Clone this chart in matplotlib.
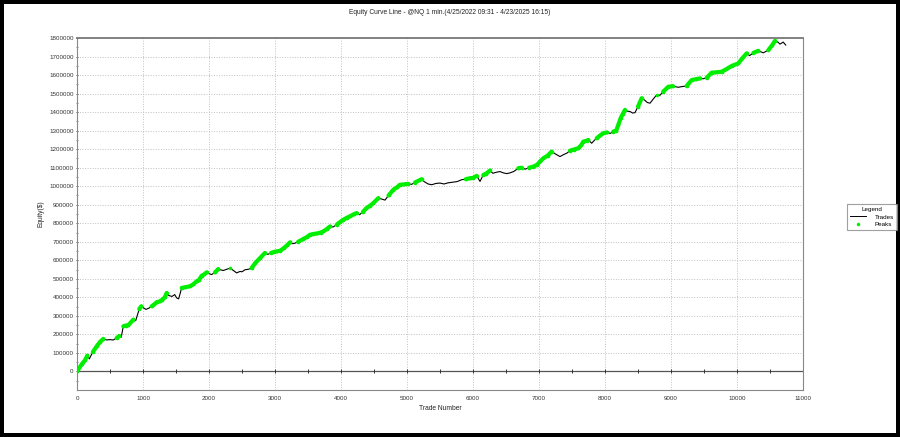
import numpy as np
import matplotlib
matplotlib.use("Agg")
import matplotlib.pyplot as plt
from matplotlib.lines import Line2D

title = "Equity Curve Line - @NQ 1 min.(4/25/2022 09:31 - 4/23/2025 16:15)"
x_label = "Trade Number"
y_label = "Equity($)"
legend_title = "Legend"
series_names = ["Trades", "Peaks"]

trade_no = [0, 70, 120, 157, 187, 240, 298, 350, 399, 450, 500, 550, 601, 641, 670, 702, 740, 778,
            853, 890, 944, 975, 1000, 1045, 1090, 1131, 1170, 1207, 1250, 1283, 1330, 1359, 1390,
            1440, 1480, 1510, 1540, 1586, 1640, 1712, 1760, 1813, 1850, 1889, 1930, 1965, 2000,
            2040, 2090, 2141, 2180, 2217, 2270, 2318, 2370, 2419, 2470, 2500, 2545, 2600, 2646,
            2700, 2773, 2848, 2890, 2940, 2980, 3025, 3080, 3130, 3180, 3227, 3260, 3300, 3350,
            3429, 3480, 3530, 3580, 3640, 3690, 3732, 3790, 3833, 3880, 3934, 3980, 4035, 4090,
            4140, 4190, 4237, 4280, 4330, 4380, 4440, 4490, 4566, 4620, 4667, 4720, 4793, 4850,
            4894, 4960, 5020, 5070, 5121, 5222, 5260, 5320, 5374, 5440, 5500, 5560, 5620, 5702,
            5760, 5828, 5890, 5955, 6000, 6056, 6106, 6156, 6200, 6258, 6300, 6350, 6409, 6460,
            6510, 6561, 6620, 6687, 6740, 6790, 6850, 6914, 6970, 7020, 7066, 7130, 7192, 7230,
            7280, 7318, 7380, 7420, 7470, 7530, 7596, 7640, 7672, 7720, 7747, 7798, 7840, 7874,
            7930, 7975, 8030, 8080, 8126, 8170, 8200, 8240, 8270, 8303, 8340, 8379, 8420, 8454,
            8500, 8556, 8600, 8640, 8682, 8730, 8783, 8830, 8880, 8960, 9030, 9111, 9170, 9237,
            9313, 9380, 9439, 9490, 9540, 9616, 9690, 9768, 9840, 9919, 10020, 10080, 10146,
            10190, 10250, 10323, 10399, 10475, 10530, 10576, 10620, 10652, 10700, 10738]

equity = [0, 38000, 60000, 86000, 68000, 105000, 136000, 160000, 176000, 170000, 172000, 170000,
          181000, 192000, 185000, 244000, 248000, 250000, 280000, 275000, 338000, 352000, 345000,
          335000, 342000, 352000, 362000, 374000, 378000, 385000, 400000, 424000, 410000, 405000,
          415000, 397000, 392000, 451000, 455000, 460000, 470000, 487000, 495000, 517000, 525000,
          535000, 528000, 523000, 535000, 553000, 548000, 545000, 552000, 558000, 545000, 532000,
          540000, 538000, 549000, 552000, 558000, 585000, 612000, 640000, 632000, 640000, 645000,
          648000, 652000, 665000, 680000, 697000, 690000, 692000, 700000, 715000, 725000, 738000,
          742000, 745000, 750000, 756000, 770000, 783000, 780000, 792000, 805000, 819000, 830000,
          838000, 848000, 855000, 846000, 860000, 880000, 895000, 909000, 936000, 930000, 925000,
          950000, 981000, 995000, 1008000, 1010000, 1013000, 1010000, 1020000, 1038000, 1025000,
          1012000, 1008000, 1015000, 1017000, 1012000, 1018000, 1022000, 1025000, 1035000,
          1038000, 1043000, 1045000, 1056000, 1026000, 1061000, 1068000, 1085000, 1070000,
          1075000, 1079000, 1072000, 1068000, 1072000, 1080000, 1097000, 1100000, 1092000,
          1100000, 1106000, 1115000, 1135000, 1151000, 1165000, 1187000, 1178000, 1168000,
          1160000, 1172000, 1178000, 1192000, 1198000, 1205000, 1222000, 1241000, 1245000,
          1250000, 1232000, 1248000, 1259000, 1275000, 1286000, 1290000, 1285000, 1295000,
          1300000, 1330000, 1370000, 1390000, 1412000, 1405000, 1403000, 1395000, 1397000,
          1430000, 1475000, 1465000, 1452000, 1448000, 1470000, 1493000, 1490000, 1510000,
          1537000, 1540000, 1534000, 1538000, 1541000, 1573000, 1578000, 1582000, 1580000,
          1585000, 1613000, 1615000, 1618000, 1632000, 1649000, 1663000, 1690000, 1717000,
          1705000, 1720000, 1731000, 1720000, 1735000, 1760000, 1785000, 1778000, 1767000,
          1778000, 1762000]

x_ticks = list(range(0, 11001, 1000))
y_ticks = list(range(0, 1800001, 100000))

FONT = ["Liberation Sans Narrow", "Liberation Sans", "DejaVu Sans"]
plt.rcParams["font.family"] = FONT

fig = plt.figure(figsize=(9, 4.37), dpi=100, linewidth=4.5, edgecolor="black")
ax = fig.add_axes([77 / 900, 1 - 390 / 437, (803 - 77) / 900, (390 - 38) / 437])

x = np.array(trade_no, dtype=float)
y = np.array(equity, dtype=float)
runmax = np.maximum.accumulate(y)
is_peak = y >= runmax
peaks = np.where(is_peak, y, np.nan)

ax.set_xlim(0, 11000)
ax.set_ylim(-100000, 1800000)

# grid
for gx in x_ticks[1:-1]:
    ax.axvline(gx, color="#c0c0c0", lw=0.7, ls=(0, (1, 1.6)), zorder=0)
for gy in y_ticks[1:-1]:
    ax.axhline(gy, color="#c0c0c0", lw=0.7, ls=(0, (1, 1.6)), zorder=0)

# zero line with ticks
ax.axhline(0, color="#555555", lw=0.9, zorder=1)
ax.plot(np.arange(0, 11001, 500), np.zeros(23), ls="none", marker="|", ms=2.4,
        mew=0.7, color="#333333", zorder=1)

ax.plot(x, y, color="black", lw=0.8, zorder=2)
ax.plot(x, peaks, color="#00ee00", lw=3.0, solid_capstyle="round", zorder=3)
ax.plot(x[is_peak], y[is_peak], ls="none", marker="o", ms=2.6, mew=0,
        color="#00ee00", zorder=3)

ax.set_xticks(x_ticks)
ax.set_xticklabels([str(v) for v in x_ticks])
ax.set_yticks(y_ticks)
ax.set_yticklabels([str(v) for v in y_ticks])
ax.set_yticks(list(range(-50000, 1800001, 50000)), minor=True)
ax.tick_params(axis="x", length=0, pad=4, labelsize=4.5, colors="#333333")
ax.tick_params(axis="y", which="major", length=2, width=0.6, pad=1.5, labelsize=4.5,
               colors="#333333", direction="inout")
ax.tick_params(axis="y", which="minor", length=1.2, width=0.5, colors="#555555", direction="inout")

for s in ["left", "bottom", "right"]:
    ax.spines[s].set_color("#888888")
    ax.spines[s].set_linewidth(0.8)
ax.spines["top"].set_color("#777777")
ax.spines["top"].set_linewidth(1.3)

ax.set_xlabel(x_label, fontsize=4.8, color="#222222", labelpad=3)
ax.set_ylabel(y_label, fontsize=4.8, color="#222222", labelpad=3)
fig.text(0.5, 1 - 12 / 437, title, ha="center", va="center", fontsize=4.8, color="#222222")

handles = [Line2D([], [], color="black", lw=0.7),
           Line2D([], [], ls="none", marker="o", ms=2.5, mew=0, color="#00ee00")]
leg = fig.legend(handles, series_names, title=legend_title, loc="center",
                 bbox_to_anchor=(872 / 900, 1 - 217 / 437), fontsize=4.5,
                 title_fontsize=4.5, fancybox=False, edgecolor="#888888",
                 handlelength=2.5, borderpad=0.5, labelspacing=0.3, handletextpad=1.5,
                 borderaxespad=0)
leg.get_frame().set_linewidth(0.8)

fig.savefig("out.png", dpi=100)
